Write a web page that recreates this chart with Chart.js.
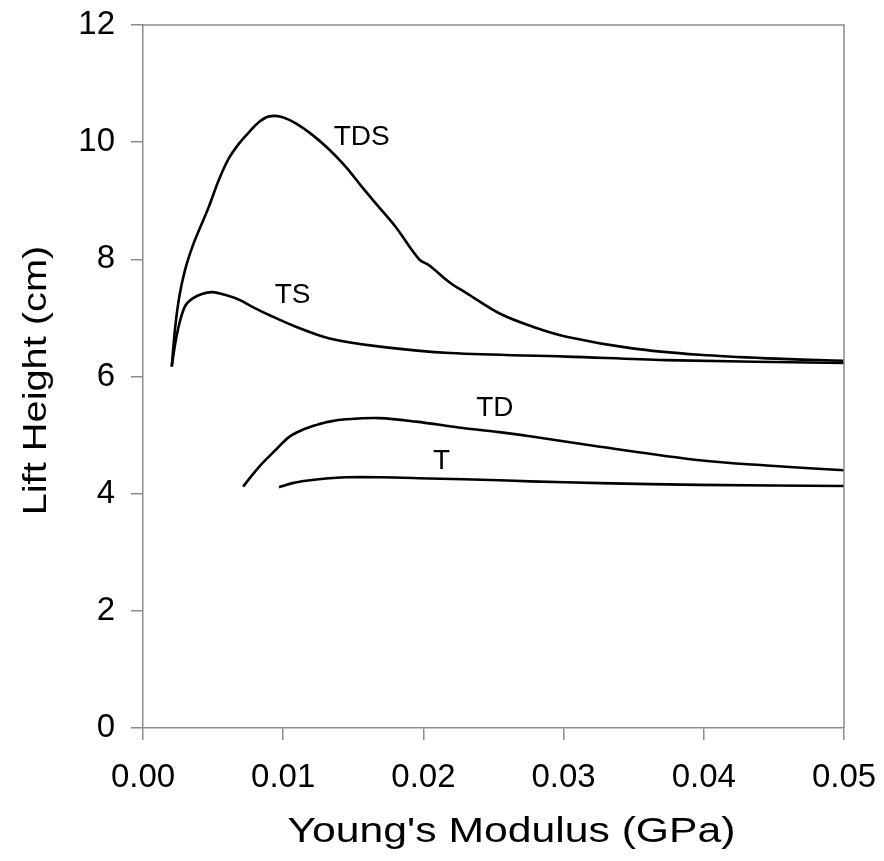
<!DOCTYPE html>
<html>
<head>
<meta charset="utf-8">
<script src="https://cdn.jsdelivr.net/npm/chart.js@4.4.1/dist/chart.umd.min.js"></script>
<style>
  html, body { margin: 0; padding: 0; background: #fff; }
  #wrap { width: 884px; height: 861px; }
</style>
</head>
<body>
<div id="wrap"><canvas id="lift"></canvas></div>
<script>
// lift height vs. Young's modulus, one curve per model
const tdsX = [0.00205, 0.0023, 0.0026, 0.003, 0.0035, 0.004, 0.0047, 0.0054, 0.00614, 0.00686, 0.0076, 0.0083, 0.009, 0.0099, 0.0109, 0.0121, 0.0133, 0.0145, 0.0156, 0.0168, 0.018, 0.0197, 0.0204, 0.0219, 0.0231, 0.0254, 0.0278, 0.0302, 0.0349, 0.0397, 0.0445, 0.05];
const tdsY = [6.17, 6.85, 7.38, 7.82, 8.2, 8.5, 8.90, 9.35, 9.73, 9.98, 10.18, 10.35, 10.44, 10.43, 10.32, 10.12, 9.87, 9.57, 9.24, 8.9, 8.56, 8.0, 7.9, 7.6, 7.42, 7.08, 6.85, 6.68, 6.48, 6.37, 6.31, 6.27];

const tsX = [0.00205, 0.00234, 0.0027, 0.00305, 0.00352, 0.0042, 0.00495, 0.0059, 0.00686, 0.0078, 0.009, 0.0109, 0.0133, 0.0169, 0.0219, 0.0302, 0.0373, 0.05];
const tsY = [6.17, 6.62, 7.0, 7.22, 7.33, 7.41, 7.44, 7.39, 7.31, 7.19, 7.05, 6.85, 6.65, 6.51, 6.40, 6.34, 6.28, 6.23];

const tdX = [0.00714, 0.0078, 0.00852, 0.00948, 0.01043, 0.01138, 0.01234, 0.01329, 0.01448, 0.01686, 0.01948, 0.0228, 0.0254, 0.0276, 0.0326, 0.0397, 0.0445, 0.05];
const tdY = [4.12, 4.32, 4.52, 4.75, 4.97, 5.09, 5.17, 5.23, 5.27, 5.29, 5.23, 5.12, 5.05, 4.98, 4.80, 4.57, 4.48, 4.40];

const tX = [0.0097, 0.01067, 0.01162, 0.01305, 0.01448, 0.01686, 0.0204, 0.0254, 0.0276, 0.0326, 0.0397, 0.05];
const tY = [4.11, 4.18, 4.22, 4.26, 4.28, 4.28, 4.26, 4.23, 4.21, 4.18, 4.15, 4.13];

// curve names and where they sit
const curveNames = ['TDS', 'TS', 'TD', 'T'];
const nameX = [0.0156, 0.01067, 0.0251, 0.0213];
const nameY = [10.08, 7.38, 5.46, 4.56];

const xTicks = [0, 0.01, 0.02, 0.03, 0.04, 0.05];
const yTicks = [0, 2, 4, 6, 8, 10, 12];

const xTitle = "Young's Modulus (GPa)";
const yTitle = 'Lift Height (cm)';

const FONT = 'Liberation Sans, Arial, sans-serif';
const AXIS = '#8c8c8c';

function pts(xs, ys) {
    return xs.map((x, i) => ({ x: x, y: ys[i] }));
}

function curve(data) {
    return {
        data: data,
        showLine: true,
        borderColor: '#000',
        borderWidth: 2.6,
        pointRadius: 0,
        tension: 0.35,
        fill: false
    };
}

// text drawn a little wider than the font's normal width
function wideText(ctx, txt, x, y, rot, stretch) {
    ctx.save();
    ctx.translate(x, y);
    ctx.rotate(rot);
    ctx.scale(stretch, 1);
    ctx.fillText(txt, 0, 0);
    ctx.restore();
}

// top/right frame, curve names and axis titles
const extras = {
    id: 'extras',
    afterDatasetsDraw(chart) {
        const ctx = chart.ctx;
        const a = chart.chartArea;
        const sx = chart.scales.x, sy = chart.scales.y;
        ctx.save();
        ctx.strokeStyle = AXIS;
        ctx.lineWidth = 1.5;
        ctx.beginPath();
        ctx.moveTo(a.left, a.top);
        ctx.lineTo(a.right, a.top);
        ctx.lineTo(a.right, a.bottom);
        ctx.stroke();

        ctx.fillStyle = '#000';
        ctx.textAlign = 'center';
        ctx.textBaseline = 'middle';
        ctx.font = '28px ' + FONT;
        curveNames.forEach((n, i) => {
            ctx.fillText(n, sx.getPixelForValue(nameX[i]), sy.getPixelForValue(nameY[i]));
        });

        ctx.font = '35px ' + FONT;
        wideText(ctx, xTitle, (a.left + a.right) / 2 + 18, a.bottom + 104, 0, 1.22);
        ctx.font = '34px ' + FONT;
        wideText(ctx, yTitle, 37, (a.top + a.bottom) / 2 + 4, -Math.PI / 2, 1.17);
        ctx.restore();
    }
};

new Chart(document.getElementById('lift'), {
    type: 'scatter',
    data: {
        datasets: [
            curve(pts(tdsX, tdsY)),
            curve(pts(tsX, tsY)),
            curve(pts(tdX, tdY)),
            curve(pts(tX, tY))
        ]
    },
    options: {
        responsive: true,
        maintainAspectRatio: false,
        animation: false,
        layout: { padding: { top: 25, right: 40, left: 0, bottom: 0 } },
        plugins: {
            legend: { display: false },
            tooltip: { enabled: false }
        },
        scales: {
            x: {
                type: 'linear',
                min: 0,
                max: 0.05,
                afterBuildTicks: s => { s.ticks = xTicks.map(v => ({ value: v })); },
                afterFit: s => {
                    s.height = 133;
                    s.paddingLeft = 0;
                    s.paddingRight = 0;
                },
                grid: { drawOnChartArea: false, drawTicks: true, tickLength: 12, color: AXIS, lineWidth: 1.5 },
                border: { color: AXIS, width: 1.5 },
                ticks: {
                    color: '#000',
                    font: { family: FONT, size: 33 },
                    padding: 18,
                    maxRotation: 0,
                    callback: v => v.toFixed(2)
                },
                title: { display: false }
            },
            y: {
                type: 'linear',
                min: 0,
                max: 12,
                afterBuildTicks: s => { s.ticks = yTicks.map(v => ({ value: v })); },
                afterFit: s => {
                    s.width = 143;
                    s.paddingTop = 0;
                    s.paddingBottom = 0;
                },
                grid: { drawOnChartArea: false, drawTicks: true, tickLength: 12, color: AXIS, lineWidth: 1.5 },
                border: { color: AXIS, width: 1.5 },
                ticks: {
                    color: '#000',
                    font: { family: FONT, size: 33 },
                    padding: 16
                },
                title: { display: false }
            }
        }
    },
    plugins: [extras]
});
</script>
</body>
</html>
